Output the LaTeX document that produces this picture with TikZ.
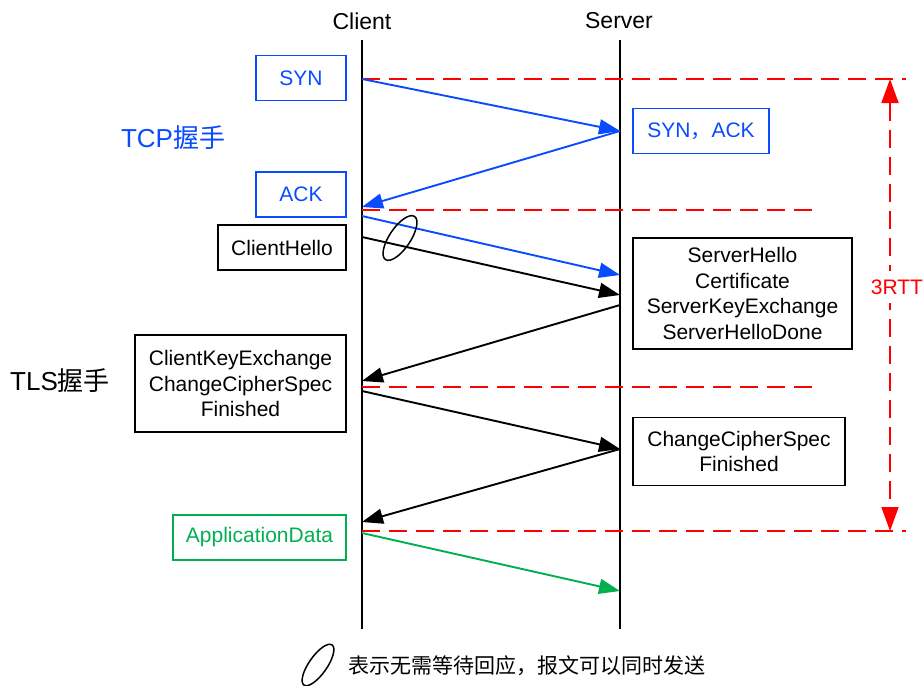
\documentclass[tikz,border=0pt]{standalone}
\usepackage{fontspec}
\setmainfont{Liberation Sans}
\newfontfamily\cjk{Noto Sans CJK SC}
\usetikzlibrary{arrows.meta,shapes.geometric}
\definecolor{tblue}{RGB}{10,75,255}
\definecolor{tgreen}{RGB}{0,176,80}
\definecolor{tred}{RGB}{255,0,0}
\begin{document}
\begin{tikzpicture}[x=1pt,y=-1pt,
  txt/.style={font=\fontsize{21}{25.5}\selectfont},
  headtxt/.style={font=\fontsize{23}{27}\selectfont},
  msgbox/.style={draw,line width=1.9pt,inner sep=0pt,align=center,txt},
  life/.style={line width=2pt},
  msg/.style={line width=1.9pt,-{Triangle[length=21pt,width=15pt]}},
  rdash/.style={tred,line width=1.8pt,dash pattern=on 18pt off 9pt},
  bigtxt/.style={font=\fontsize{26}{30}\selectfont},
  oval/.style={draw,ellipse,line width=1.5pt,inner sep=0pt}
]
\useasboundingbox (0,0) rectangle (923,685);

% lifelines
\node[headtxt] (client) at (362,21) {Client};
\node[headtxt] (server) at (619,21) {Server};
\coordinate (cT) at (362,40);
\coordinate (cB) at (362,629);
\coordinate (sT) at (620,40);
\coordinate (sB) at (620,629);
\draw[life] (cT) -- (cB);
\draw[life] (sT) -- (sB);

% boxes
\node[msgbox,tblue,text=tblue,minimum width=90pt,minimum height=45pt] (syn) at (301,78) {SYN};
\node[msgbox,tblue,text=tblue,minimum width=90pt,minimum height=45pt] (ack) at (301,194.5) {ACK};
\node[msgbox,tblue,text=tblue,minimum width=136pt,minimum height=45pt] (synack) at (701,131) {SYN{\cjk ，}ACK};
\node[msgbox,minimum width=128pt,minimum height=45pt] (chello) at (282,247.5) {ClientHello};
\node[msgbox,minimum width=219pt,minimum height=111pt] (shello) at (742.5,293.5) {ServerHello\\Certificate\\ServerKeyExchange\\ServerHelloDone};
\node[msgbox,minimum width=211pt,minimum height=97pt] (ckx) at (240.5,383.5) {ClientKeyExchange\\ChangeCipherSpec\\Finished};
\node[msgbox,minimum width=212pt,minimum height=68pt] (ccs) at (739,451.5) {ChangeCipherSpec\\Finished};
\node[msgbox,tgreen,text=tgreen,minimum width=173pt,minimum height=45pt] (app) at (259.5,537.5) {ApplicationData};

% side labels
\node[bigtxt,text=tblue] (tcp) at (173,138) {TCP{\cjk 握手}};
\node[bigtxt] (tls) at (60,381) {TLS{\cjk 握手}};

% message points
\coordinate (a1) at (362,79);  \coordinate (b1) at (620,131);
\coordinate (a2) at (362,207);
\coordinate (a3) at (362,216); \coordinate (b3) at (620,275);
\coordinate (a4) at (362,237); \coordinate (b4) at (620,295);
\coordinate (b5) at (620,305); \coordinate (a5) at (362,381);
\coordinate (a6) at (362,391); \coordinate (b6) at (620,449);
\coordinate (a7) at (362,522);
\coordinate (a8) at (362,533); \coordinate (b8) at (620,591);

% red dashed lines
\coordinate (r1l) at (362,79);  \coordinate (r1r) at (906,79);
\coordinate (r2l) at (362,210); \coordinate (r2r) at (815,210);
\coordinate (r3l) at (362,387); \coordinate (r3r) at (815,387);
\coordinate (r4l) at (362,531); \coordinate (r4r) at (906,531);
\draw[rdash] (r1l) -- (r1r);
\draw[rdash] (r2l) -- (r2r);
\draw[rdash] (r3l) -- (r3r);
\draw[rdash] (r4l) -- (r4r);

\coordinate (rttT) at (890,79);
\coordinate (rttB) at (890,531);
\draw[rdash,{Triangle[length=24pt,width=17pt]}-{Triangle[length=24pt,width=17pt]}] (rttT) -- (rttB);
\node[txt,text=tred,fill=white,inner xsep=2pt,inner ysep=9pt] (rtt) at (897,287) {3RTT};

% messages
\draw[msg,tblue] (a1) -- (b1);
\draw[msg,tblue] (b1) -- (a2);
\draw[msg,tblue] (a3) -- (b3);
\draw[msg] (a4) -- (b4);
\draw[msg] (b5) -- (a5);
\draw[msg] (a6) -- (b6);
\draw[msg] (b6) -- (a7);
\draw[msg,tgreen] (a8) -- (b8);

% parallel marker
\node[oval,minimum width=52pt,minimum height=21pt,rotate=56] (par) at (400,238) {};

% legend
\node[oval,minimum width=49pt,minimum height=18pt,rotate=55] (legoval) at (318,665) {};
\node[font=\fontsize{21}{25}\selectfont,anchor=west] (legtxt) at (345,666) {\cjk 表示无需等待回应，报文可以同时发送};
\end{tikzpicture}
\end{document}
